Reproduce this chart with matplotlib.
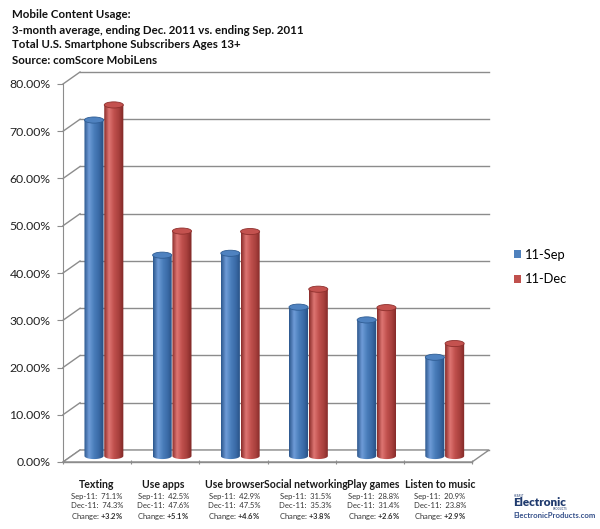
import matplotlib.pyplot as plt
import numpy as np
from matplotlib.colors import LinearSegmentedColormap
from matplotlib.patches import Ellipse, Polygon, Patch

fam = 'Lato'
plt.rcParams['font.family'] = [fam, 'DejaVu Sans']
plt.rcParams['mathtext.fontset'] = 'custom'
plt.rcParams['mathtext.rm'] = fam
plt.rcParams['mathtext.bf'] = fam + ':bold'

categories = ['Texting', 'Use apps', 'Use browser', 'Social networking', 'Play games', 'Listen to music']
sep11 = [71.1, 42.5, 42.9, 31.5, 28.8, 20.9]
dec11 = [74.3, 47.6, 47.5, 35.3, 31.4, 23.8]
change = ['+3.2%', '+5.1%', '+4.6%', '+3.8%', '+2.6%', '+2.9%']
series_names = ['11-Sep', '11-Dec']
yticks = [0, 10, 20, 30, 40, 50, 60, 70, 80]
title_lines = ['Mobile Content Usage:',
               '3-month average, ending Dec. 2011 vs. ending Sep. 2011',
               'Total U.S. Smartphone Subscribers Ages 13+',
               'Source: comScore MobiLens']

W, H = 600, 529
fig = plt.figure(figsize=(W / 100, H / 100), dpi=100)
ax = fig.add_axes([63 / W, 67 / H, 409 / W, 378 / H])
n = len(categories)
ax.set_xlim(0, n)
ax.set_ylim(0, 80)

gc = '#8c8c8c'
# depth of the pseudo-3d box, in data units
bx, by = 0.25, 2.54

# back wall gridlines + left diagonals
for y in yticks:
    ax.plot([bx, n + bx], [y + by, y + by], color=gc, lw=1, clip_on=False, zorder=1)
    ax.plot([0, bx], [y, y + by], color=gc, lw=1, clip_on=False, zorder=1)
# floor
floor = Polygon([(0, 0), (n, 0), (n + bx, by), (bx, by)], closed=True, facecolor='white',
                edgecolor=gc, lw=1, clip_on=False, zorder=1)
ax.add_patch(floor)

cmaps = [LinearSegmentedColormap.from_list('b', ['#2b568c', '#6f9cd8', '#4a7ebb', '#3a6aa6', '#254d80']),
         LinearSegmentedColormap.from_list('r', ['#8a2c2a', '#de7673', '#c0504d', '#a8403d', '#7e2725'])]
tops = ['#4f82c0', '#c4524f']
edges = ['#2f5d94', '#8e302d']

bw = 0.28
eh = 1.3
grad = np.linspace(0, 1, 64).reshape(1, -1)
for k, vals in enumerate([sep11, dec11]):
    for i, v in enumerate(vals):
        xc = i + 0.5 + bx / 2 + (k - 0.5) * bw + (0.0 if k == 0 else 0.01) - 0.03
        x0, x1 = xc - bw / 2, xc + bw / 2
        bot = by / 2
        top = v + by / 2
        th = np.linspace(np.pi, 2 * np.pi, 40)
        pts = list(zip(xc + bw / 2 * np.cos(th), bot + eh / 2 * np.sin(th)))
        pts += [(x1, top), (x0, top)]
        clip = Polygon(pts, closed=True, transform=ax.transData, facecolor='none', edgecolor='none')
        ax.add_patch(clip)
        im = ax.imshow(grad, cmap=cmaps[k], extent=(x0, x1, bot - eh, top), aspect='auto', zorder=3,
                       interpolation='bilinear')
        im.set_clip_path(clip)
        ax.add_patch(Ellipse((xc, top), bw, eh, facecolor=tops[k], edgecolor=edges[k], lw=0.6, zorder=4))

ax.set_xlim(0, n)
ax.set_ylim(0, 80)

for s in ['top', 'right', 'bottom']:
    ax.spines[s].set_visible(False)
ax.spines['left'].set_color(gc)
ax.set_yticks(yticks)
ax.set_yticklabels(['%.2f%%' % t for t in yticks], fontsize=8.8, color='#222222')
ax.tick_params(axis='y', length=4, color=gc, pad=5)
ax.set_xticks(range(n + 1))
ax.set_xticklabels([])
ax.tick_params(axis='x', length=3, color=gc, direction='inout')
ax.plot([0, n], [0, 0], color=gc, lw=1, clip_on=False, zorder=2)

# small nudges of the category captions, as in the source layout (pixels)
nudge = [0, -2, 1, 4, 4, 2]
for i, c in enumerate(categories):
    xy = (i + 0.5, 0)
    d = nudge[i]
    ax.annotate(c, xy, xytext=(d, -22), textcoords='offset pixels',
                ha='center', va='center', fontsize=7.6, fontweight='bold', color='#1a1a1a')
    ax.annotate('Sep-11:  %.1f%%' % sep11[i], xy, xytext=(d, -34), textcoords='offset pixels',
                ha='center', va='center', fontsize=5.5, color='#333333')
    ax.annotate('Dec-11:  %.1f%%' % dec11[i], xy, xytext=(d, -44), textcoords='offset pixels',
                ha='center', va='center', fontsize=5.5, color='#333333')
    ax.annotate('Change: $\\mathbf{%s}$' % change[i].replace('%', '\\%'), xy, xytext=(d, -54),
                textcoords='offset pixels', ha='center', va='center', fontsize=5.5, color='#333333')

for j, line in enumerate(title_lines):
    fig.text(12 / W, 1 - [15, 31, 45, 60][j] / H, line, fontsize=8.3, fontweight='bold',
             ha='left', va='center', color='#111111')

handles = [Patch(facecolor='#4f81bd'), Patch(facecolor='#c0504d')]
fig.legend(handles, series_names, loc='center left', bbox_to_anchor=(502 / W, 1 - 267 / H),
           frameon=False, fontsize=9.3, handlelength=0.55, handleheight=0.55,
           handletextpad=0.35, labelspacing=1.0)

# logo
fig.text(514 / W, 1 - 496 / H, 'HEARST', fontsize=2, color='#1f3a6e', ha='left', va='center')
fig.text(513 / W, 1 - 502 / H, 'Electronic', fontsize=8.5, fontweight='heavy', color='#1f3a6e',
         ha='left', va='center')
fig.text(567 / W, 1 - 509.5 / H, 'PRODUCTS', fontsize=2, color='#1f3a6e', ha='right', va='center')
fig.text(513 / W, 1 - 516 / H, 'ElectronicProducts.com', fontsize=5.6, fontweight='bold',
         color='#35508a', ha='left', va='center')

fig.savefig('out.png', dpi=100)
